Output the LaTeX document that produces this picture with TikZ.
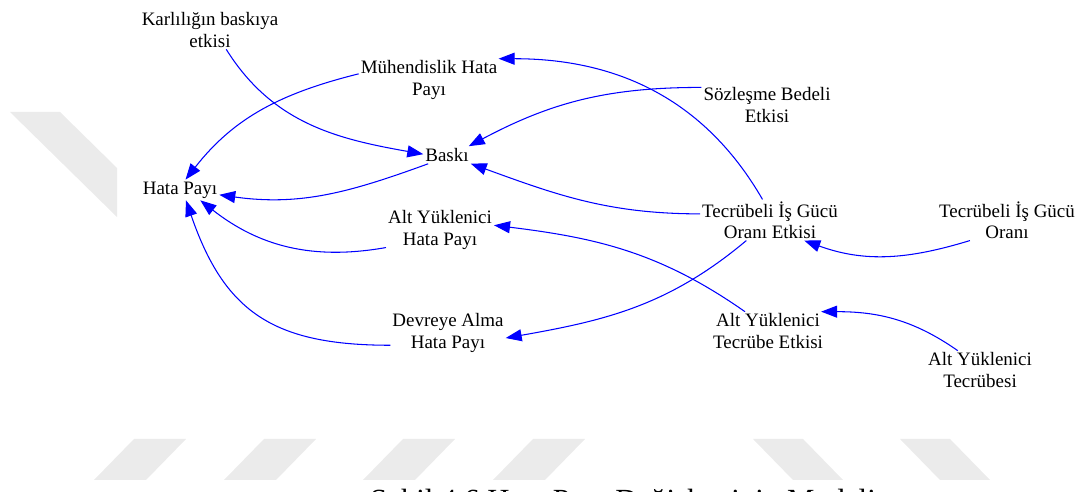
\documentclass[tikz,border=0pt]{standalone}
\usepackage{fontspec}
\setmainfont{Liberation Serif}
\usetikzlibrary{arrows.meta}

\begin{document}
\begin{tikzpicture}[x=0.02cm, y=0.02cm,
  var/.style={align=center, inner sep=1pt, font=\fontsize{10.8}{12}\selectfont},
  link/.style={blue, line width=0.6pt, -{Triangle[length=0.32cm, width=0.24cm]}},
  stripe/.style={fill=black!8}]
\useasboundingbox (0,0) rectangle (1078,-492);
% Draw watermark stripes
\fill[stripe] (10,-112) -- (60,-112) -- (117,-168) -- (117,-217) -- cycle;
\foreach \x in {134,264,403,533}
  \fill[stripe] (\x,-439) -- +(52,0) -- +(12,-41) -- +(-40,-41) -- cycle;
\foreach \x in {753,900}
  \fill[stripe] (\x,-439) -- +(50,0) -- +(90,-41) -- +(40,-41) -- cycle;
% Draw caption
\node[anchor=base, font=\fontsize{17.5}{20}\selectfont] (caption) at (623,-511) {Şekil 4.6 Hata Payı Değişkeninin Modeli};
% Draw variables
\node[var] (karlilik) at (210,-30) {Karlılığın baskıya\\etkisi};
\node[var] (muhendislik) at (429,-80) {Mühendislik Hata\\Payı};
\node[var] (baski) at (447,-155) {Baskı};
\node[var] (hatapayi) at (180,-190) {Hata Payı};
\node[var] (sozlesme) at (767,-105) {Sözleşme Bedeli\\Etkisi};
\node[var] (iscietki) at (770,-220) {Tecrübeli İş Gücü\\Oranı Etkisi};
\node[var] (iscioran) at (1007,-220) {Tecrübeli İş Gücü\\Oranı};
\node[var] (althata) at (440,-230) {Alt Yüklenici\\Hata Payı};
\node[var] (devreye) at (448,-333) {Devreye Alma\\Hata Payı};
\node[var] (altetki) at (768,-331) {Alt Yüklenici\\Tecrübe Etkisi};
\node[var] (alttecrube) at (980,-370) {Alt Yüklenici\\Tecrübesi};
% Draw links into Baski
\draw[link] (karlilik.-50) to[out=-58, in=170] (baski.178);
\draw[link] (sozlesme.165) to[out=180, in=28] (baski.22);
\draw[link] (iscietki.175) to[out=180, in=-20] (baski.-20);
% Draw links from the experience effects
\draw[link] (iscietki.110) to[out=120, in=0] (muhendislik.17);
\draw[link] (iscietki.221) to[out=220, in=10] (devreye.-5);
\draw[link] (altetki.140) to[out=145, in=-7] (althata.5);
\draw[link] (iscioran.209) to[out=197, in=-20] (iscietki.-31);
\draw[link] (alttecrube.139) to[out=145, in=0] (altetki.20);
% Draw links into Hata Payi
\draw[link] (muhendislik.175) to[out=194, in=52] (hatapayi.62);
\draw[link] (baski.205) to[out=200, in=-8] (hatapayi.-7);
\draw[link] (althata.198) to[out=190, in=-38] (hatapayi.-27);
\draw[link] (devreye.192) to[out=180, in=-71, looseness=1.2] (hatapayi.-60);
\end{tikzpicture}
\end{document}
